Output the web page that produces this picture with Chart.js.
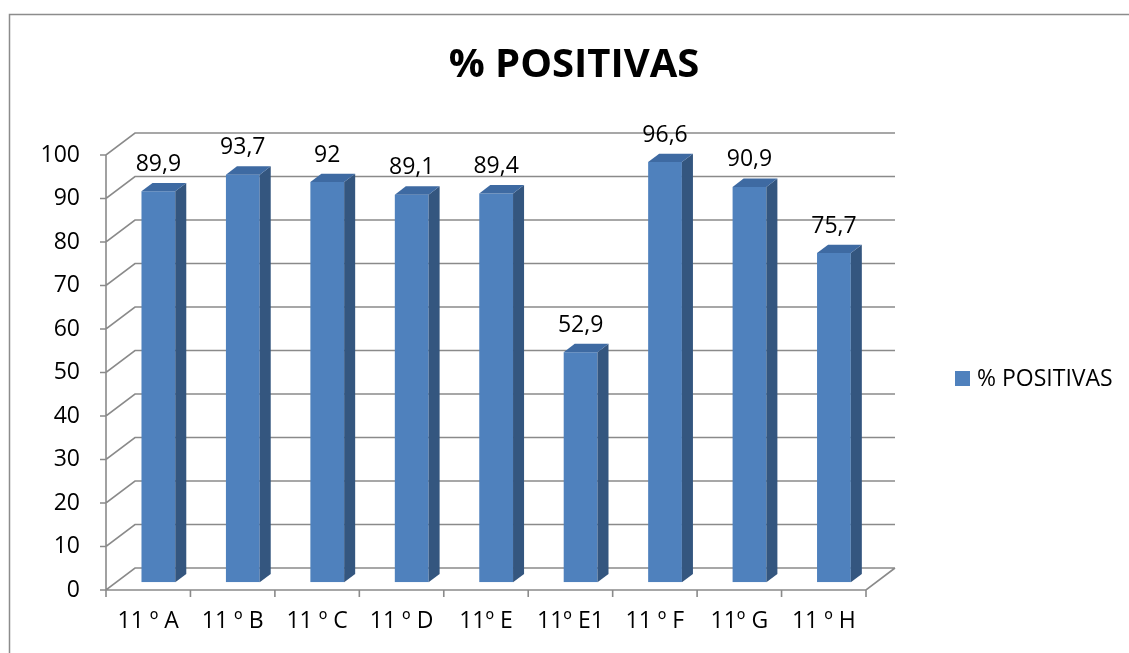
<!DOCTYPE html>
<html>
<head>
<meta charset="utf-8">
<script src="https://cdn.jsdelivr.net/npm/chart.js@4"></script>
<style>
  html, body { margin: 0; padding: 0; background: #fff; }
  canvas { display: block; }
</style>
</head>
<body>
<canvas id="chart" width="1129" height="653"></canvas>
<script>
const categories = ["11 º A", "11 º B", "11 º C", "11 º D", "11º E", "11º E1", "11 º F", "11º G", "11 º H"];
const positivas = [89.9, 93.7, 92, 89.1, 89.4, 52.9, 96.6, 90.9, 75.7];
const seriesName = "% POSITIVAS";
const chartTitle = "% POSITIVAS";

const FONT = "'Open Sans', sans-serif";
const GRID = "#8a8a8a";
// depth of the 3d box, and where the bars sit inside it
const depth = { dx: 29, dy: -22 };
const barFront = 0.35, barBack = 0.73;

const frontColor = "#4f81bd", sideColor = "#34567f", topColor = "#3e6aa2";

const box3d = {
    id: "box3d",
    beforeDraw(chart) {
        const ctx = chart.ctx;
        ctx.save();
        ctx.fillStyle = "#fff";
        ctx.fillRect(0, 0, chart.width, chart.height);
        // outer frame
        ctx.strokeStyle = "#8c8c8c";
        ctx.lineWidth = 1.5;
        ctx.beginPath();
        ctx.moveTo(chart.width + 5, 14.5);
        ctx.lineTo(9.5, 14.5);
        ctx.lineTo(9.5, chart.height + 5);
        ctx.stroke();
        // title
        ctx.fillStyle = "#000";
        ctx.font = "bold 40px " + FONT;
        ctx.textAlign = "center";
        ctx.textBaseline = "middle";
        ctx.fillText(chartTitle, 574, 66);
        // legend
        ctx.fillStyle = frontColor;
        ctx.fillRect(955, 371, 15, 15);
        ctx.fillStyle = "#000";
        ctx.font = "23px " + FONT;
        ctx.textAlign = "left";
        ctx.fillText(seriesName, 977, 379);
        ctx.restore();
    },
    beforeDatasetsDraw(chart) {
        const ctx = chart.ctx;
        const { left, right, bottom } = chart.chartArea;
        const y = chart.scales.y;
        ctx.save();
        ctx.strokeStyle = GRID;
        ctx.lineWidth = 1.6;
        ctx.beginPath();
        y.ticks.forEach(t => {
            const py = y.getPixelForValue(t.value);
            ctx.moveTo(left - 6, py);
            ctx.lineTo(left, py);
            ctx.lineTo(left + depth.dx, py + depth.dy);
            ctx.lineTo(right + depth.dx, py + depth.dy);
        });
        // floor front edge and right side
        ctx.moveTo(right + depth.dx, bottom + depth.dy);
        ctx.lineTo(right, bottom);
        ctx.lineTo(left, bottom);
        // y axis
        ctx.moveTo(left, y.getPixelForValue(y.max));
        ctx.lineTo(left, bottom);
        // category ticks
        const n = categories.length;
        for (let i = 0; i <= n; i++) {
            const px = left + (right - left) * i / n;
            ctx.moveTo(px, bottom);
            ctx.lineTo(px, bottom + 7);
        }
        ctx.stroke();
        ctx.restore();
        ctx.save();
        ctx.translate(depth.dx * barFront, depth.dy * barFront);
    },
    afterDatasetsDraw(chart) {
        const ctx = chart.ctx;
        ctx.restore();
        const ox = depth.dx * barFront, oy = depth.dy * barFront;
        const sx = depth.dx * (barBack - barFront), sy = depth.dy * (barBack - barFront);
        const meta = chart.getDatasetMeta(0);
        ctx.save();
        meta.data.forEach((bar, i) => {
            const { x, y, base, width } = bar.getProps(["x", "y", "base", "width"], true);
            const l = x - width / 2 + ox, r = x + width / 2 + ox;
            const t = y + oy, b = base + oy;
            ctx.fillStyle = sideColor;
            ctx.beginPath();
            ctx.moveTo(r, t); ctx.lineTo(r + sx, t + sy);
            ctx.lineTo(r + sx, b + sy); ctx.lineTo(r, b);
            ctx.closePath(); ctx.fill();
            ctx.fillStyle = topColor;
            ctx.beginPath();
            ctx.moveTo(l, t); ctx.lineTo(l + sx, t + sy);
            ctx.lineTo(r + sx, t + sy); ctx.lineTo(r, t);
            ctx.closePath(); ctx.fill();
            ctx.fillStyle = "#000";
            ctx.font = "23px " + FONT;
            ctx.textAlign = "center";
            ctx.textBaseline = "middle";
            const v = chart.data.datasets[0].data[i];
            ctx.fillText(String(v).replace(".", ","), (l + r) / 2, t - 27);
        });
        ctx.restore();
    }
};

new Chart(document.getElementById("chart"), {
    type: "bar",
    data: {
        labels: categories,
        datasets: [{
            label: seriesName,
            data: positivas,
            backgroundColor: frontColor,
            borderWidth: 0,
            barPercentage: 0.4,
            categoryPercentage: 1
        }]
    },
    options: {
        responsive: false,
        animation: false,
        devicePixelRatio: 1,
        layout: { padding: { top: 155, right: 263, bottom: 0, left: 0 } },
        plugins: { legend: { display: false }, title: { display: false }, tooltip: { enabled: false } },
        scales: {
            x: {
                grid: { display: false, drawTicks: false },
                border: { display: false },
                ticks: { color: "#000", font: { family: FONT, size: 23 }, padding: 18, maxRotation: 0, autoSkip: false },
                afterFit: s => { s.height = 63; }
            },
            y: {
                min: 0, max: 100,
                grid: { display: false, drawTicks: false },
                border: { display: false },
                ticks: { stepSize: 10, color: "#000", font: { family: FONT, size: 23 }, padding: 26 },
                afterFit: s => { s.width = 106; }
            }
        }
    },
    plugins: [box3d]
});
</script>
</body>
</html>
